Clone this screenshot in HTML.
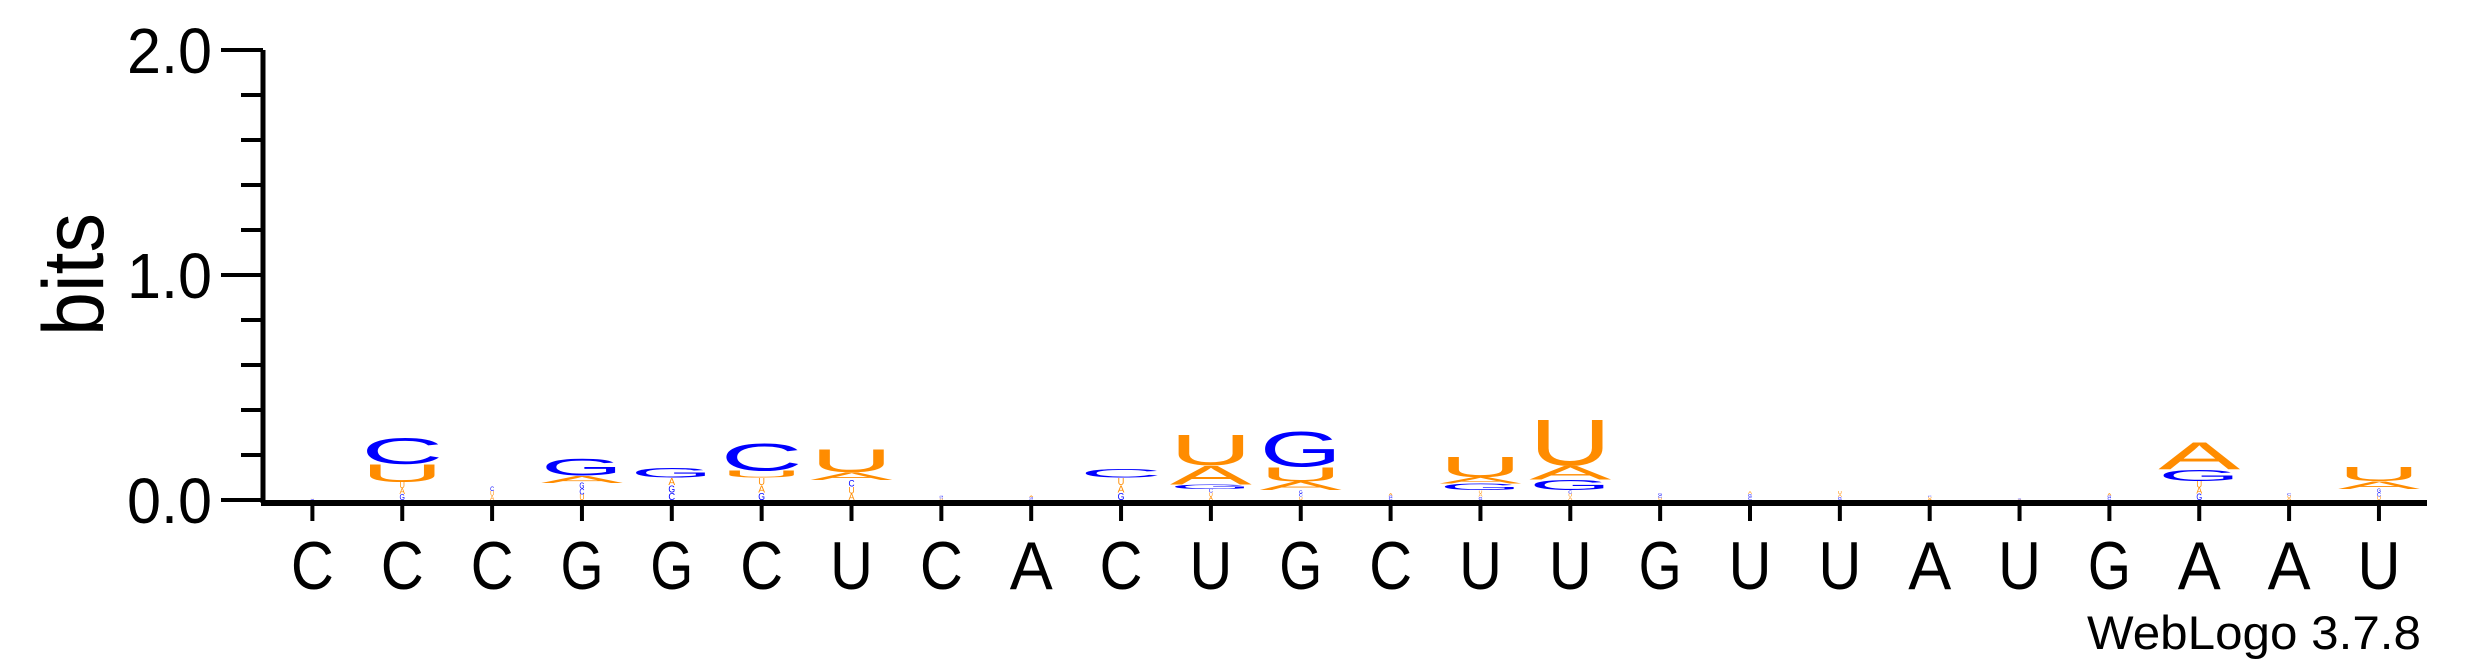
<!DOCTYPE html>
<html><head><meta charset="utf-8"><style>html,body{margin:0;padding:0;background:#fff;}svg{display:block}</style></head>
<body>
<svg id="chart" width="2475" height="667" viewBox="0 0 2475 667" xmlns="http://www.w3.org/2000/svg" font-family="'Liberation Sans', sans-serif"></svg>
<script>
// Data
const positions = ["C","C","C","G","G","C","U","C","A","C","U","G","C","U","U","G","U","U","A","U","G","A","A","U"];
// bits taken by tiny low-information letters at the bottom of each stack
const residualBits = [0.01,0.08,0.06,0.076,0.1,0.1,0.09,0.02,0.02,0.1,0.05,0.044,0.03,0.044,0.044,0.03,0.04,0.04,0.02,0.01,0.03,0.085,0.03,0.05];
// main stacks bottom->top: [letter, bits]
const stacks = [
  [],
  [["U",0.08],["C",0.117]],
  [],
  [["A",0.032],["G",0.076]],
  [["G",0.045]],
  [["U",0.032],["C",0.123]],
  [["A",0.034],["U",0.104]],
  [],
  [],
  [["C",0.038]],
  [["G",0.02],["A",0.085],["U",0.14]],
  [["A",0.038],["U",0.066],["G",0.159]],
  [],
  [["G",0.03],["A",0.028],["U",0.09]],
  [["G",0.047],["A",0.062],["U",0.21]],
  [],
  [],
  [],
  [],
  [],
  [],
  [["G",0.051],["A",0.125]],
  [],
  [["A",0.034],["U",0.066]]
];
const yTicks = [0,0.2,0.4,0.6,0.8,1.0,1.2,1.4,1.6,1.8,2.0];
const yLabels = ["0.0","1.0","2.0"];
const yLabelVals = [0,1,2];

const svg = document.getElementById('chart');
const NS = "http://www.w3.org/2000/svg";
const x0 = 312.4, dx = 89.85, yBase = 500, pxPerBit = 225;
const xPos = i => x0 + i*dx;
const yPos = v => yBase - v*pxPerBit;
const colors = {A:"#ff8c00",U:"#ff8c00",C:"#0000ff",G:"#0000ff"};
function el(tag, attrs){const e=document.createElementNS(NS,tag);for(const k in attrs)e.setAttribute(k,attrs[k]);svg.appendChild(e);return e;}

// y axis
let a = el('line',{x1:263,y1:yPos(2),x2:263,y2:yBase+3,stroke:"#000","stroke-width":5});


yTicks.forEach(v=>{
  const major = yLabelVals.some(m=>Math.abs(m-v)<1e-9);
  const t = el('line',{x1:major?221:241,x2:263,y1:yPos(v),y2:yPos(v),stroke:"#000","stroke-width":4});
  
  
});
yLabels.forEach((s,i)=>{
  const t = el('text',{x:127,y:yPos(yLabelVals[i])+23,"font-size":64,textLength:85,lengthAdjust:"spacingAndGlyphs",fill:"#000"});
  t.textContent=s;
  
  
});
const yt = el('text',{x:0,y:0,"font-size":86,textLength:123,lengthAdjust:"spacingAndGlyphs",transform:"translate(103,336) rotate(-90)",fill:"#000"});
yt.textContent="bits";



// x axis
const xa = el('line',{x1:261,y1:yBase+3,x2:2427,y2:yBase+3,stroke:"#000","stroke-width":6});


positions.forEach((p,i)=>{
  const t = el('line',{x1:xPos(i),x2:xPos(i),y1:503,y2:521,stroke:"#000","stroke-width":4});
  
  
  const l = el('text',{x:xPos(i)-21.5,y:589,"font-size":68,textLength:43,lengthAdjust:"spacingAndGlyphs",fill:"#000"});
  l.textContent=p;
  
  
});

// stacks
const CAP = 71.6, W = 82;
const tinyOrder = ["C","G","A","U"];
function drawLetter(ch, i, bottomBits, h, w){
  const bottom = yPos(bottomBits), hp = h*pxPerBit;
  if(hp < 0.3) return;
  const k = hp/CAP;
  const t = el('text',{x:0,y:0,"font-size":100,textLength:w,lengthAdjust:"spacingAndGlyphs",fill:colors[ch],transform:`translate(${xPos(i)-w/2},${bottom}) scale(1,${k})`});
  t.textContent=ch;
  
  
}
stacks.forEach((st,i)=>{
  let acc = 0;
  // tiny residual letters (small, narrow)
  const r = residualBits[i];
  const parts = 3;
  for(let j=0;j<parts;j++){
    const h = r/parts;
    drawLetter(tinyOrder[(i+j)%4], i, acc, h, Math.max(4, h*pxPerBit*0.9));
    acc += h;
  }
  st.forEach(([ch,h])=>{
    drawLetter(ch, i, acc, h, W);
    acc += h;
  });
});

const wl = el('text',{x:2087,y:649,"font-size":47,textLength:334,lengthAdjust:"spacingAndGlyphs",fill:"#000"});
wl.textContent="WebLogo 3.7.8";


</script>
</body></html>
